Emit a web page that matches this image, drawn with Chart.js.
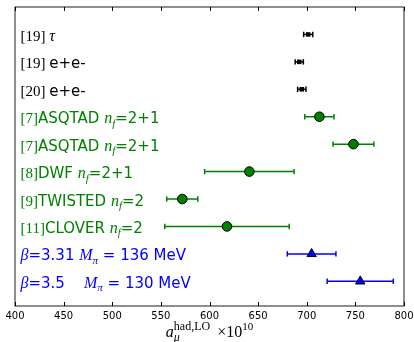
<!DOCTYPE html>
<html>
<head>
<meta charset="utf-8">
<script src="https://cdn.jsdelivr.net/npm/chart.js@4/dist/chart.umd.min.js"></script>
<style>
  html, body { margin: 0; padding: 0; background: #fff; }
  #wrap { width: 414px; height: 342px; }
</style>
</head>
<body>
<div id="wrap"><canvas id="chart" width="414" height="342"></canvas></div>
<script>
// Row labels: segments of [style, text]; r = serif roman, i = serif italic, s = sans, sub = subscript
const categories = [
    [['r', '[19] '], ['i', 'τ']],
    [['r', '[19] '], ['s', 'e+e-']],
    [['r', '[20] '], ['s', 'e+e-']],
    [['r', '[7]'], ['s', 'ASQTAD '], ['i', 'n'], ['sub', 'f'], ['s', '=2+1']],
    [['r', '[7]'], ['s', 'ASQTAD '], ['i', 'n'], ['sub', 'f'], ['s', '=2+1']],
    [['r', '[8]'], ['s', 'DWF '], ['i', 'n'], ['sub', 'f'], ['s', '=2+1']],
    [['r', '[9]'], ['s', 'TWISTED '], ['i', 'n'], ['sub', 'f'], ['s', '=2']],
    [['r', '[11]'], ['s', 'CLOVER '], ['i', 'n'], ['sub', 'f'], ['s', '=2']],
    [['i', 'β'], ['s', '=3.31 '], ['i', 'M'], ['sub', 'π'], ['s', ' = 136 MeV']],
    [['i', 'β'], ['s', '=3.5    '], ['i', 'M'], ['sub', 'π'], ['s', ' = 130 MeV']]
];

// a_mu^had,LO x 10^10 and its uncertainty, one per row
const values = [701.5, 692.3, 694.9, 713, 748, 641, 572, 618, 705, 755];
const errors = [4.7, 4.2, 4.3, 15, 21, 46, 16, 64, 25, 34];

// which group each row belongs to: 0 = dispersive, 1 = other lattice, 2 = this work
const groups = [0, 0, 0, 1, 1, 1, 1, 1, 2, 2];

const xTicks = [400, 450, 500, 550, 600, 650, 700, 750, 800];

const groupColors = ['#000000', '#008000', '#0000ff'];
const groupStyles = ['rect', 'circle', 'triangle'];
const groupRadius = [3.2, 4.8, 5.4];

const SERIF = '"Liberation Serif", "Times New Roman", serif';
const SANS = '"DejaVu Sans", sans-serif';

const fonts = {
    r: '15px ' + SERIF,
    i: 'italic 16px ' + SERIF,
    s: '15px ' + SANS,
    sub: 'italic 11px ' + SERIF
};

// build datasets: markers first (drawn on top), then error bars
const datasets = [];
for (let g = 0; g < 3; g++) {
    const pts = [];
    values.forEach(function(v, i) {
        if (groups[i] === g) pts.push({ x: v, y: i + 1 });
    });
    datasets.push({
        type: 'scatter',
        data: pts,
        pointStyle: groupStyles[g],
        pointRadius: groupRadius[g],
        pointBackgroundColor: groupColors[g],
        pointBorderColor: '#000000',
        pointBorderWidth: g === 0 ? 0 : 1,
        order: 0
    });
}
values.forEach(function(v, i) {
    const c = groupColors[groups[i]];
    datasets.push({
        type: 'line',
        data: [{ x: v - errors[i], y: i + 1 }, { x: v + errors[i], y: i + 1 }],
        borderColor: c,
        borderWidth: 1.5,
        pointStyle: 'line',
        pointRotation: 90,
        pointRadius: 2.7,
        pointBorderColor: c,
        pointBorderWidth: 1.5,
        pointBackgroundColor: c,
        fill: false,
        order: 1
    });
});

function drawSegments(ctx, segs, x, y) {
    segs.forEach(function(s) {
        ctx.font = fonts[s[0]];
        const dy = s[0] === 'sub' ? 3.5 : 0;
        ctx.fillText(s[1], x, y + dy);
        x += ctx.measureText(s[1]).width;
    });
}

const decorations = {
    id: 'decorations',
    afterDraw: function(chart) {
        const ctx = chart.ctx;
        const a = chart.chartArea;
        const xs = chart.scales.x;
        const ys = chart.scales.y;
        ctx.save();

        // frame
        ctx.strokeStyle = '#444444';
        ctx.lineWidth = 1.2;
        ctx.strokeRect(a.left, a.top, a.right - a.left, a.bottom - a.top);

        // inward tick marks, top and bottom
        ctx.lineWidth = 1;
        ctx.strokeStyle = '#000000';
        xTicks.forEach(function(t) {
            const px = Math.round(xs.getPixelForValue(t)) + 0.5;
            ctx.beginPath();
            ctx.moveTo(px, a.bottom);
            ctx.lineTo(px, a.bottom - 4);
            ctx.moveTo(px, a.top);
            ctx.lineTo(px, a.top + 4);
            ctx.stroke();
        });

        // row labels
        ctx.textBaseline = 'alphabetic';
        ctx.textAlign = 'left';
        categories.forEach(function(segs, i) {
            ctx.fillStyle = groupColors[groups[i]];
            drawSegments(ctx, segs, a.left + 5.5, ys.getPixelForValue(i + 1) + 6.5);
        });

        // x axis title: a_mu^{had,LO} x10^{10}
        ctx.fillStyle = '#000000';
        const base = 337;
        const fA = 'italic 16px ' + SERIF;
        const fSup = '12px ' + SERIF;
        const fSub = 'italic 12px ' + SERIF;
        const fX = '16px ' + SERIF;
        const fExp = '11px ' + SERIF;
        ctx.font = fA; const wA = ctx.measureText('a').width;
        ctx.font = fSup; const wSup = ctx.measureText('had,LO').width;
        ctx.font = fX; const wX = ctx.measureText('×10').width;
        ctx.font = fExp; const wExp = ctx.measureText('10').width;
        const gap = 7;
        let x = (a.left + a.right) / 2 - (wA + wSup + gap + wX + wExp) / 2;
        ctx.font = fA; ctx.fillText('a', x, base); x += wA;
        ctx.font = fSup; ctx.fillText('had,LO', x, base - 7);
        ctx.font = fSub; ctx.fillText('μ', x, base + 4);
        x += wSup + gap;
        ctx.font = fX; ctx.fillText('×10', x, base); x += wX;
        ctx.font = fExp; ctx.fillText('10', x, base - 7);

        ctx.restore();
    }
};

new Chart(document.getElementById('chart').getContext('2d'), {
    type: 'scatter',
    data: { datasets: datasets },
    options: {
        responsive: false,
        animation: false,
        layout: { padding: { left: 15, right: 10, top: 7, bottom: 0 } },
        plugins: {
            legend: { display: false },
            tooltip: { enabled: false }
        },
        scales: {
            x: {
                type: 'linear',
                min: 400,
                max: 800,
                afterBuildTicks: function(scale) {
                    scale.ticks = xTicks.map(function(v) { return { value: v }; });
                },
                afterFit: function(scale) {
                    scale.height = 36;
                    scale.paddingLeft = 0;
                    scale.paddingRight = 0;
                },
                grid: { display: false, drawTicks: false },
                border: { display: false },
                ticks: {
                    color: '#000000',
                    padding: 4,
                    maxRotation: 0,
                    font: { family: 'DejaVu Sans', size: 10 }
                }
            },
            y: {
                type: 'linear',
                display: false,
                min: 0,
                max: 10.9,
                reverse: true
            }
        }
    },
    plugins: [decorations]
});
</script>
</body>
</html>
